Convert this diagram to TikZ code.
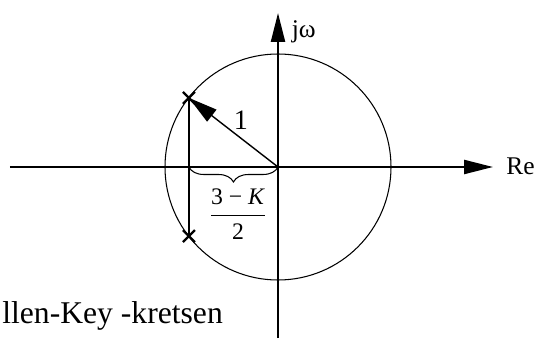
\documentclass[tikz,border=0pt]{standalone}
\usepackage{fontspec}
\usepackage{amsmath}
\setmainfont{Liberation Serif}
\usetikzlibrary{arrows.meta, decorations.pathreplacing}

\begin{document}
\begin{tikzpicture}[
    axis/.style={line width=1.3pt, -{Triangle[length=0.58cm,width=0.28cm]}},
    pole/.style={line width=1.3pt},
    lbl/.style={inner sep=0pt, font=\fontsize{14.5}{17}\selectfont}]
    \useasboundingbox (-5.56,-3.42) rectangle (5.16,3.34);
    % Points
    \coordinate (O) at (0,0);
    \coordinate (P1) at (142.2:2.255);
    \coordinate (P2) at (-142.2:2.255);
    \coordinate (Xl) at (-5.36,0);
    \coordinate (Xr) at (4.3,0);
    \coordinate (Yb) at (0,-3.42);
    \coordinate (Yt) at (0,3.08);

    % Unit circle
    \draw[line width=0.6pt] (O) circle (2.26);

    % Axes
    \draw[axis] (Xl) -- (Xr);
    \draw[axis] (Yb) -- (Yt);
    \node[lbl, anchor=base west] (re) at (4.56,-0.16) {Re};
    \node[lbl, anchor=base west] (jw) at (0.27,2.58) {jω};

    % Poles
    \draw[pole] (P1) -- (P2);
    \foreach \p in {P1,P2} {
        \draw[pole] ([shift={(-0.12,-0.12)}]\p) -- ([shift={(0.12,0.12)}]\p);
        \draw[pole] ([shift={(-0.12,0.12)}]\p) -- ([shift={(0.12,-0.12)}]\p);
    }

    % Radius
    \draw[line width=0.8pt, -{Triangle[length=0.58cm,width=0.3cm]}] (O) -- (P1);
    \node[font=\fontsize{16}{18}\selectfont] (one) at (-0.74,0.94) {1};

    % Real part
    \draw[line width=0.6pt, decorate, decoration={brace, amplitude=0.3cm}] (O) -- (P1 |- O);
    \node[font=\fontsize{13.5}{16}\selectfont] (repart) at (-0.8,-0.94) {$\dfrac{\text{3 − \textit{K}}}{\text{2}}$};

    \node[font=\fontsize{18}{21}\selectfont, anchor=base west, inner sep=0pt] (caption) at (-5.52,-3.12) {llen-Key -kretsen};
\end{tikzpicture}
\end{document}
